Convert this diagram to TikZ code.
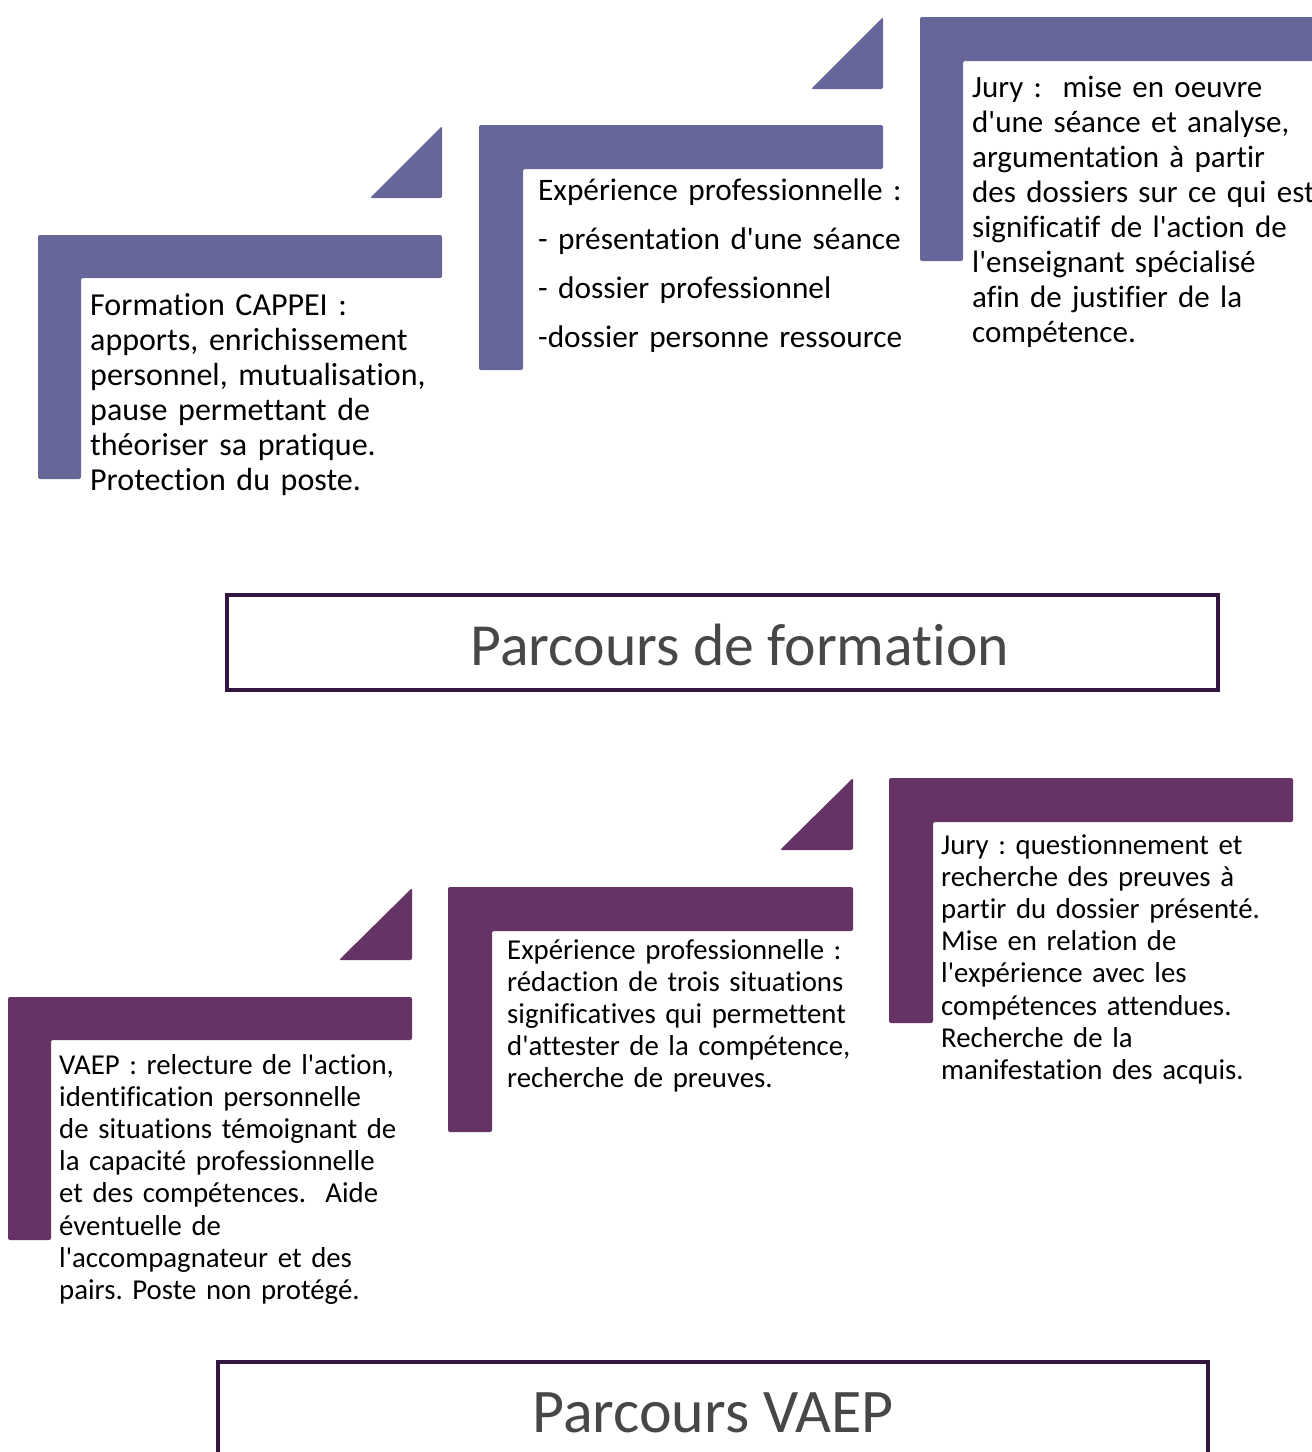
\documentclass[tikz,border=0pt]{standalone}
\usepackage{fontspec}
\setmainfont{Carlito}[Ligatures={TeXOff,NoCommon}]
\definecolor{topc}{HTML}{666699}
\definecolor{botc}{HTML}{663366}
\definecolor{framec}{HTML}{33163F}
\definecolor{titlec}{HTML}{474747}
\newcommand\tightsp{\frenchspacing\spaceskip=0.16em\relax}
\begin{document}
\begin{tikzpicture}[x=1pt,y=-1pt,
  topshape/.style={fill=topc, rounded corners=2pt},
  botshape/.style={fill=botc, rounded corners=2pt},
  bodytop/.style={anchor=base west, inner sep=0pt, text width=600pt, align=left,
     font={\fontsize{31.3}{35}\selectfont\tightsp}, text=black},
  bodybot/.style={anchor=base west, inner sep=0pt, text width=600pt, align=left,
     font={\fontsize{28.8}{32.2}\selectfont\tightsp}, text=black},
  titlebox/.style={draw=framec, line width=4pt, fill=white, outer sep=0pt, inner sep=0pt, anchor=north west},
  titletext/.style={anchor=base, inner sep=0pt, text=titlec}]
\useasboundingbox (0,0) rectangle (1312,1452);
\clip (0,0) rectangle (1312,1452);

% ---------- Parcours de formation ----------
\path[topshape] (38,235) -- (442,235) -- (442,278) -- (81,278) -- (81,479) -- (38,479) -- cycle;
\path[topshape] (370,198) -- (442,126) -- (442,198) -- cycle;
\path[topshape] (479,125) -- (883,125) -- (883,169) -- (523,169) -- (523,370) -- (479,370) -- cycle;
\path[topshape] (811,89) -- (883,17) -- (883,89) -- cycle;
\path[topshape] (920,17) -- (1330,17) -- (1330,61) -- (963,61) -- (963,261) -- (920,261) -- cycle;

\node[bodytop, font={\fontsize{32}{35}\selectfont\tightsp}] (f1) at (90,315) {Formation CAPPEI :\\apports, enrichissement\\personnel, mutualisation,\\pause permettant de\\théoriser sa pratique.\\Protection du poste.};
\node[bodytop, font={\fontsize{31.3}{49}\selectfont\tightsp}] (f2) at (538,200) {Expérience professionnelle :\\- présentation d'une séance\\- dossier professionnel\\-dossier personne ressource};
\node[bodytop, font={\fontsize{31}{35}\selectfont\tightsp}] (f3) at (972,97) {Jury :\ \ mise en oeuvre\\d'une séance et analyse,\\argumentation à partir\\des dossiers sur ce qui est\\significatif de l'action de\\l'enseignant spécialisé\\afin de justifier de la\\compétence.};

\node[titlebox, minimum width=991pt, minimum height=95pt] (t1) at (227,595) {};
\node[titletext, font={\fontsize{59.7}{70}\selectfont}] (t1text) at (740,665) {Parcours de formation};

% ---------- Parcours VAEP ----------
\path[botshape] (8,997) -- (412,997) -- (412,1040) -- (51,1040) -- (51,1240) -- (8,1240) -- cycle;
\path[botshape] (339,960) -- (412,888) -- (412,960) -- cycle;
\path[botshape] (448,887) -- (853,887) -- (853,931) -- (492,931) -- (492,1132) -- (448,1132) -- cycle;
\path[botshape] (780,850) -- (853,778) -- (853,850) -- cycle;
\path[botshape] (889,778) -- (1293,778) -- (1293,822) -- (933,822) -- (933,1023) -- (889,1023) -- cycle;

\node[bodybot] (v1) at (59,1074) {VAEP : relecture de l'action,\\identification personnelle\\de situations témoignant de\\la capacité professionnelle\\et des compétences.\ \ Aide\\éventuelle de\\l'accompagnateur et des\\pairs. Poste non protégé.};
\node[bodybot] (v2) at (507,959) {Expérience professionnelle :\\rédaction de trois situations\\significatives qui permettent\\d'attester de la compétence,\\recherche de preuves.};
\node[bodybot] (v3) at (941,854) {Jury : questionnement et\\recherche des preuves à\\partir du dossier présenté.\\Mise en relation de\\l'expérience avec les\\compétences attendues.\\Recherche de la\\manifestation des acquis.};

\node[titlebox, minimum width=990pt, minimum height=140pt] (t2) at (218,1362) {};
\node[titletext, font={\fontsize{62}{70}\selectfont}] (t2text) at (713,1432) {Parcours VAEP};
\end{tikzpicture}
\end{document}
